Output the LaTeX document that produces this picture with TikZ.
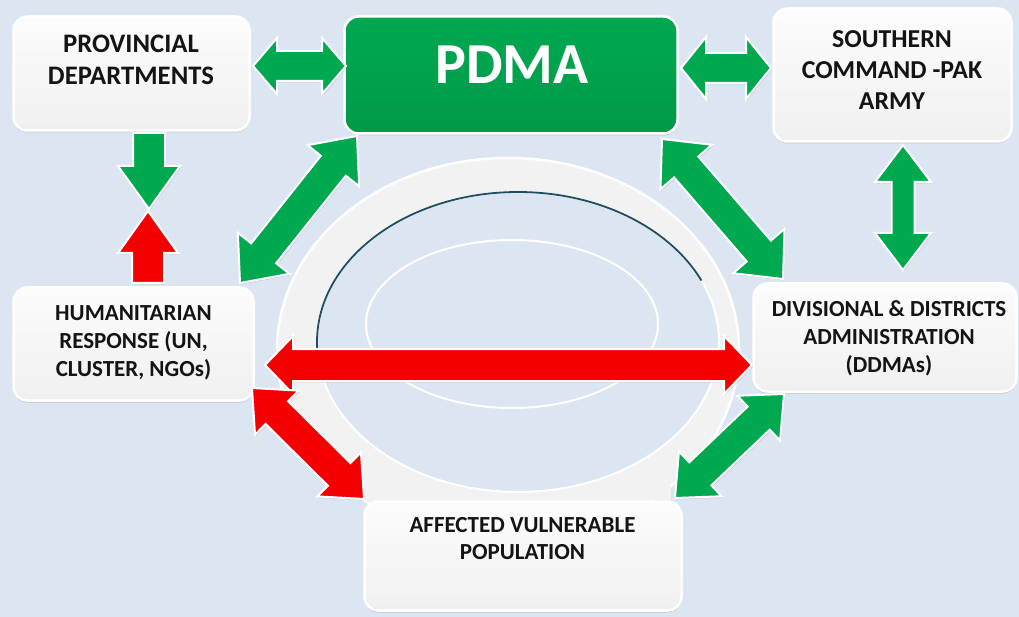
\documentclass[tikz,border=0pt]{standalone}
\usepackage{fontspec}
\setmainfont{Carlito}
\usetikzlibrary{calc,shadows}
\definecolor{bgblue}{RGB}{220,230,242}
\definecolor{pgreen}{RGB}{0,168,80}
\definecolor{pred}{RGB}{245,0,0}
\definecolor{ringgray}{RGB}{242,242,242}
\definecolor{darkteal}{RGB}{31,78,95}
\definecolor{txtcol}{RGB}{20,20,20}
% double-headed block arrow: #1 tip A, #2 tip B, #3 style, #4 shaft half width, #5 head half width, #6 head length
\newcommand\dblarrow[6]{%
  \coordinate (baA) at ($(#1)!#6!(#2)$);
  \coordinate (baB) at ($(#2)!#6!(#1)$);
  \draw[#3] (#1) -- ($(baA)!#5!90:(#2)$) -- ($(baA)!#4!90:(#2)$)
    -- ($(baB)!#4!-90:(#1)$) -- ($(baB)!#5!-90:(#1)$) -- (#2)
    -- ($(baB)!#5!90:(#1)$) -- ($(baB)!#4!90:(#1)$)
    -- ($(baA)!#4!-90:(#2)$) -- ($(baA)!#5!-90:(#2)$) -- cycle;}
% single-headed block arrow: #1 tail centre, #2 tip
\newcommand\sglarrow[6]{%
  \coordinate (baB) at ($(#2)!#6!(#1)$);
  \draw[#3] ($(#1)!#4!90:(#2)$) -- ($(baB)!#4!-90:(#1)$) -- ($(baB)!#5!-90:(#1)$)
    -- (#2) -- ($(baB)!#5!90:(#1)$) -- ($(baB)!#4!90:(#1)$)
    -- ($(#1)!#4!-90:(#2)$) -- cycle;}
\begin{document}
\begin{tikzpicture}[x=1pt,y=-1pt,
  box/.style={draw=white, line width=2.5pt, rounded corners=14pt,
    top color=white!99!black, bottom color=white!94!black,
    drop shadow={opacity=0.3, shadow xshift=0pt, shadow yshift=-2pt}, inner sep=0pt},
  pbox/.style={box, top color=pgreen, bottom color=pgreen!92!black},
  lbl/.style={font=\bfseries, text=txtcol, align=center, inner sep=0pt},
  garrow/.style={fill=pgreen, draw=white, line width=2pt, line join=miter,
    drop shadow={opacity=0.25, shadow xshift=1pt, shadow yshift=-1.5pt}},
  rarrow/.style={garrow, fill=pred}]
\useasboundingbox (0,0) rectangle (1019,617);
\fill[bgblue] (0,0) rectangle (1019,617);

% central ring
\fill[ringgray, draw=white, line width=2.5pt] (508,350) ellipse [x radius=231pt, y radius=192pt];
\fill[ringgray] (361,430) rectangle (671,500);
\fill[bgblue, draw=white, line width=2pt] (518,342) ellipse [x radius=201pt, y radius=150pt];
\begin{scope}
  \clip (300,140) -- (745,140) -- (745,266) -- (518,342) -- (300,352) -- cycle;
  \draw[darkteal, line width=1.8pt] (518,342) ellipse [x radius=201pt, y radius=150pt];
\end{scope}
\draw[white, line width=2pt] (512,324) ellipse [x radius=146pt, y radius=84pt];

% boxes
\node[box, minimum width=236pt, minimum height=114pt] (prov) at (131.5,73.5) {};
\node[pbox, minimum width=333pt, minimum height=117pt] (pdma) at (511,75) {};
\node[box, minimum width=238pt, minimum height=133pt] (south) at (892.5,75) {};
\node[box, minimum width=240pt, minimum height=113pt] (hum) at (133.5,344) {};
\node[box, minimum width=263pt, minimum height=108pt] (div) at (885,337.5) {};
\node[box, minimum width=317pt, minimum height=109pt] (aff) at (523,556) {};

\node[lbl, font=\bfseries\fontsize{26.7}{31.5}\selectfont] (provt) at (131,60) {PROVINCIAL\\DEPARTMENTS};
\node[lbl, text=white, font=\bfseries\fontsize{58}{58}\selectfont] (pdmat) at (512,65) {PDMA};
\node[lbl, font=\bfseries\fontsize{25.8}{31}\selectfont] (southt) at (892,70) {SOUTHERN\\COMMAND -PAK\\ARMY};
\node[lbl, font=\bfseries\fontsize{23}{28}\selectfont] (humt) at (133.5,343) {HUMANITARIAN\\RESPONSE (UN,\\CLUSTER, NGOs)};
\node[lbl, font=\bfseries\fontsize{23}{28}\selectfont] (divt) at (889,338) {DIVISIONAL \& DISTRICTS\\ADMINISTRATION\\(DDMAs)};
\node[lbl, font=\bfseries\fontsize{23}{27}\selectfont] (afft) at (522.5,538.5) {AFFECTED VULNERABLE\\POPULATION};

% arrow end points
\coordinate (a1s) at (253,66);  \coordinate (a1e) at (346,66);
\coordinate (a2s) at (681,68);  \coordinate (a2e) at (771,68);
\coordinate (a3s) at (149,133); \coordinate (a3e) at (149,209);
\coordinate (a4s) at (148,283); \coordinate (a4e) at (148,211);
\coordinate (a5s) at (357,136); \coordinate (a5e) at (240,283);
\coordinate (a6s) at (662,139); \coordinate (a6e) at (783,279);
\coordinate (a7s) at (903,145); \coordinate (a7e) at (903,270);
\coordinate (a8s) at (265,365); \coordinate (a8e) at (752,365);
\coordinate (a9s) at (252,388); \coordinate (a9e) at (364,499);
\coordinate (a10s) at (784,394); \coordinate (a10e) at (675,498);

\dblarrow{a1s}{a1e}{garrow}{15pt}{28pt}{24pt}
\dblarrow{a2s}{a2e}{garrow}{15pt}{31pt}{25pt}
\sglarrow{a3s}{a3e}{garrow}{16pt}{31pt}{43pt}
\sglarrow{a4s}{a4e}{rarrow}{16pt}{30pt}{42pt}
\dblarrow{a5s}{a5e}{garrow}{16pt}{33pt}{38pt}
\dblarrow{a6s}{a6e}{garrow}{16pt}{34pt}{37pt}
\dblarrow{a7s}{a7e}{garrow}{11.5pt}{28pt}{37pt}
\dblarrow{a8s}{a8e}{rarrow}{16pt}{29pt}{28pt}
\dblarrow{a9s}{a9e}{rarrow}{16pt}{31pt}{35pt}
\dblarrow{a10s}{a10e}{garrow}{16pt}{31pt}{35pt}
\end{tikzpicture}
\end{document}
